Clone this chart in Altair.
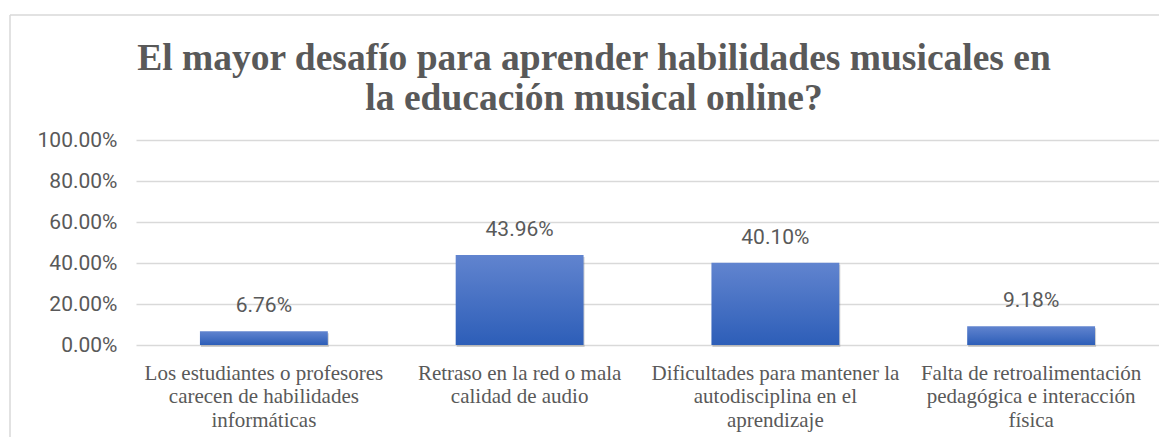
import altair as alt
import pandas as pd

categories = [
    "Los estudiantes o profesores|carecen de habilidades|informáticas",
    "Retraso en la red o mala|calidad de audio",
    "Dificultades para mantener la|autodisciplina en el|aprendizaje",
    "Falta de retroalimentación|pedagógica e interacción|física",
]
values = [0.0676, 0.4396, 0.4010, 0.0918]
title_lines = [
    "El mayor desafío para aprender habilidades musicales en",
    "la educación musical online?",
]

df = pd.DataFrame({"cat": categories, "val": values})
frame_df = pd.DataFrame({"a": [0]})
title_df = pd.DataFrame({"t": ["\n".join(title_lines)]})

GRAY = "#595959"
GRID = "#d9d9d9"

x_enc = alt.X(
    "cat:N",
    sort=categories,
    scale=alt.Scale(paddingInner=0.5, paddingOuter=0.25),
    axis=alt.Axis(
        title=None,
        labelAngle=0,
        labelExpr="split(datum.label, '|')",
        labelFont="Liberation Serif",
        labelFontSize=21,
        labelLineHeight=23.5,
        labelColor=GRAY,
        labelPadding=17,
        labelLimit=400,
        domain=False,
        ticks=False,
        grid=False,
    ),
)
y_enc = alt.Y(
    "val:Q",
    scale=alt.Scale(domain=[0, 1]),
    axis=alt.Axis(
        title=None,
        values=[0, 0.2, 0.4, 0.6, 0.8, 1.0],
        format=".2%",
        labelFont="Roboto",
        labelFontSize=21,
        labelColor=GRAY,
        labelPadding=19,
        domain=False,
        ticks=False,
        grid=True,
        gridColor=GRID,
        gridWidth=1.5,
    ),
)

base = alt.Chart(df)

shadow = base.mark_bar(color="#555555", opacity=0.25, xOffset=1, yOffset=2).encode(
    x=x_enc, y=y_enc
)

bars = base.mark_bar(
    color=alt.Gradient(
        gradient="linear",
        x1=0, x2=0, y1=0, y2=1,
        stops=[
            alt.GradientStop(color="#6184cf", offset=0),
            alt.GradientStop(color="#2d5eb8", offset=1),
        ],
    )
).encode(x=x_enc, y=y_enc)

labels = base.mark_text(
    dy=-19,
    baseline="alphabetic",
    font="Roboto",
    fontSize=21,
    color=GRAY,
).encode(x=x_enc, y=y_enc, text=alt.Text("val:Q", format=".2%"))

title = alt.Chart(title_df).mark_text(
    font="Liberation Serif",
    fontSize=37.5,
    fontWeight="bold",
    color=GRAY,
    align="center",
    baseline="alphabetic",
    lineBreak="\n",
    lineHeight=40,
).encode(text="t:N", x=alt.value(458), y=alt.value(-70))

left_border = alt.Chart(frame_df).mark_rule(color=GRID, strokeWidth=1.5).encode(
    x=alt.value(-126), y=alt.value(-125), y2=alt.value(300)
)
top_border = alt.Chart(frame_df).mark_rule(color=GRID, strokeWidth=1.5).encode(
    x=alt.value(-126), x2=alt.value(1040), y=alt.value(-125)
)

chart = (
    alt.layer(left_border, top_border, shadow, bars, labels, title)
    .properties(
        width=1023,
        height=205,
        autosize=alt.AutoSizeParams(type="none"),
        padding={"left": 128, "top": 132, "right": 0, "bottom": 92},
    )
    .configure_view(stroke=None)
)

chart.save("out.html", embed_options={"renderer": "svg", "actions": False})
